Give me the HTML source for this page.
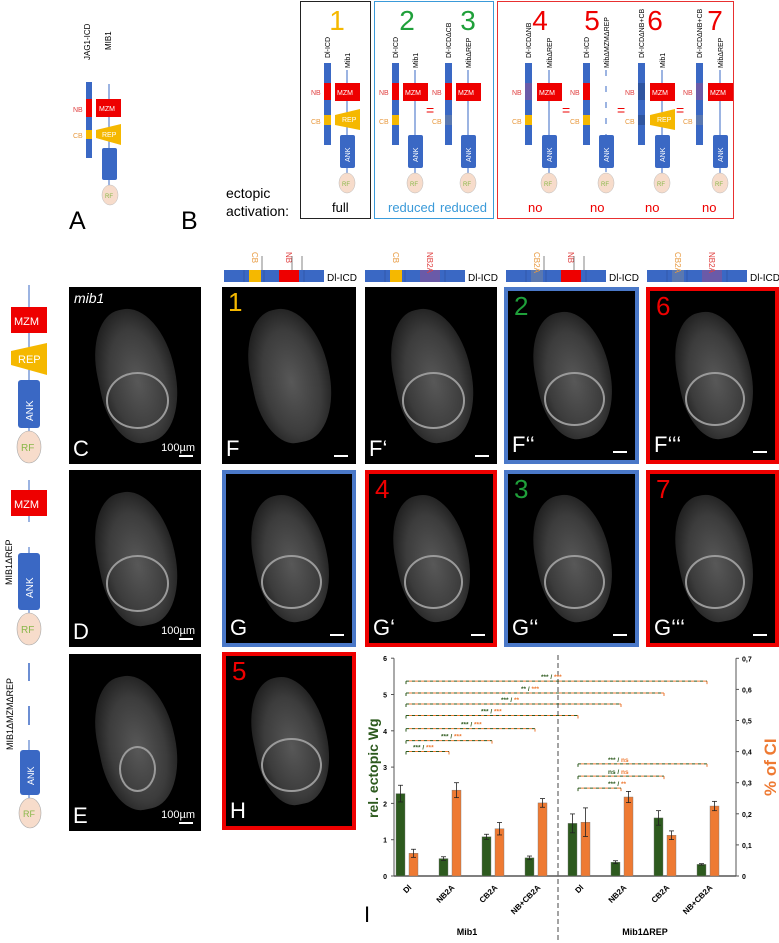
<!DOCTYPE html>
<html><head><meta charset="utf-8">
<style>
body{margin:0;width:779px;height:943px;background:#fff;position:relative;overflow:hidden;font-family:"Liberation Sans","DejaVu Sans",sans-serif}
.a{position:absolute}
.p{position:absolute;background:#000;box-sizing:border-box;overflow:hidden}
.p .bl{position:absolute;left:22%;top:12%;width:58%;height:76%;border-radius:45% 50% 48% 42%;background:radial-gradient(ellipse at 50% 55%,#585858 0%,#3c3c3c 50%,#1a1a1a 80%,rgba(0,0,0,0) 100%);transform:rotate(-12deg)}
.p .pc{position:absolute;left:28%;top:48%;width:48%;height:32%;border:2px solid #9a9a9a;border-radius:50%;box-sizing:border-box}
.p .lt{position:absolute;left:4px;bottom:2px;color:#fff;font-size:22px}
.p .nm{position:absolute;left:6px;top:0px;font-size:26px}
.p .sb{position:absolute;right:8px;bottom:7px;width:14px;height:2px;background:#fff}
.p .um{position:absolute;right:6px;bottom:10px;color:#fff;font-size:11px}
</style></head><body>
<svg class="a" style="left:0;top:0" width="779" height="290">
 <g font-size="8" font-family="Liberation Sans">
  <text transform="translate(90,60) rotate(-90)">JAG1-ICD</text>
  <text transform="translate(111,50) rotate(-90)">MIB1</text>
  <rect x="86" y="82" width="6" height="76" fill="#3a68c4"/>
  <rect x="86" y="99" width="6" height="18" fill="#e00"/>
  <rect x="86" y="130" width="6" height="9" fill="#f5b800"/>
  <text x="73" y="112" fill="#e04040" font-size="7">NB</text>
  <text x="73" y="138" fill="#e89a40" font-size="7">CB</text>
  <line x1="109" y1="84" x2="109" y2="195" stroke="#3a68c4"/>
  <rect x="96" y="99" width="25" height="18" fill="#e00"/>
  <text x="99" y="111" fill="#fff" font-size="7">MZM</text>
  <polygon points="96,130 121,124 121,145 96,138" fill="#f5b800"/>
  <text x="102" y="137" fill="#fff" font-size="7">REP</text>
  <rect x="102" y="148" width="15" height="32" rx="2" fill="#3a68c4"/>
  <ellipse cx="110" cy="195" rx="8" ry="10" fill="#f7dccb" stroke="#bbb" stroke-width=".5"/>
  <text x="105" y="198" fill="#8ab84a" font-size="6">RF</text>
 </g>
 <g id="Bgroup" font-family="Liberation Sans"></g>
</svg>
<div class="a" style="left:69px;top:207px;font-size:25px">A</div>
<div class="a" style="left:181px;top:207px;font-size:25px">B</div>
<div class="a" style="left:226px;top:184px;font-size:14px;line-height:18px">ectopic<br>activation:</div>
<div class="a" style="left:300px;top:1px;width:71px;height:218px;border:1.5px solid #222;box-sizing:border-box"></div>
<div class="a" style="left:374px;top:1px;width:120px;height:218px;border:1.5px solid #3a9ad9;box-sizing:border-box"></div>
<div class="a" style="left:497px;top:1px;width:237px;height:218px;border:1.5px solid #e83030;box-sizing:border-box"></div>
<div class="a" style="left:332px;top:200px;font-size:13px">full</div>
<div class="a" style="left:388px;top:200px;font-size:13px;color:#3a9ad9">reduced</div>
<div class="a" style="left:440px;top:200px;font-size:13px;color:#3a9ad9">reduced</div>
<div class="a" style="left:528px;top:200px;font-size:13px;color:#e00">no</div>
<div class="a" style="left:590px;top:200px;font-size:13px;color:#e00">no</div>
<div class="a" style="left:645px;top:200px;font-size:13px;color:#e00">no</div>
<div class="a" style="left:702px;top:200px;font-size:13px;color:#e00">no</div>

<svg class="a" style="left:0;top:285px" width="62" height="550" font-family="Liberation Sans">
 <line x1="29" y1="0" x2="29" y2="175" stroke="#3a68c4"/>
 <rect x="11" y="22" width="36" height="26" fill="#e00"/><text x="14" y="40" fill="#fff" font-size="11">MZM</text>
 <polygon points="11,66 47,58 47,90 11,80" fill="#f5b800"/><text x="18" y="78" fill="#fff" font-size="11">REP</text>
 <rect x="18" y="95" width="22" height="48" rx="3" fill="#3a68c4"/><text transform="translate(33,136) rotate(-90)" fill="#fff" font-size="10">ANK</text>
 <ellipse cx="29" cy="162" rx="12" ry="16" fill="#f7dccb" stroke="#aaa" stroke-width=".6"/><text x="21" y="166" fill="#8ab84a" font-size="10">RF</text>
 <line x1="29" y1="195" x2="29" y2="350" stroke="#3a68c4"/>
 <line x1="29" y1="237" x2="29" y2="262" stroke="#fff" stroke-width="3"/>
 <rect x="11" y="205" width="36" height="26" fill="#e00"/><text x="14" y="223" fill="#fff" font-size="11">MZM</text>
 <text transform="translate(12,300) rotate(-90)" font-size="9">MIB1ΔREP</text>
 <rect x="18" y="268" width="22" height="57" rx="3" fill="#3a68c4"/><text transform="translate(33,313) rotate(-90)" fill="#fff" font-size="10">ANK</text>
 <ellipse cx="29" cy="344" rx="12" ry="16" fill="#f7dccb" stroke="#aaa" stroke-width=".6"/><text x="21" y="348" fill="#8ab84a" font-size="10">RF</text>
 <line x1="29" y1="378" x2="29" y2="396" stroke="#3a68c4" stroke-width="1.5"/>
 <line x1="29" y1="421" x2="29" y2="440" stroke="#3a68c4" stroke-width="1.5"/>
 <text transform="translate(13,465) rotate(-90)" font-size="9">MIB1ΔMZMΔREP</text>
 <line x1="29" y1="455" x2="29" y2="530" stroke="#3a68c4"/>
 <rect x="20" y="465" width="20" height="45" rx="3" fill="#3a68c4"/><text transform="translate(34,500) rotate(-90)" fill="#fff" font-size="9">ANK</text>
 <ellipse cx="30" cy="528" rx="11" ry="15" fill="#f7dccb" stroke="#aaa" stroke-width=".6"/><text x="23" y="532" fill="#8ab84a" font-size="9">RF</text>
</svg>

<svg class="a" style="left:0;top:240px" width="779" height="45" font-family="Liberation Sans" id="strips"></svg>

<div class="p" style="left:69px;top:287px;width:132px;height:177px"><div class="bl"></div><div class="pc"></div><div class="a" style="left:5px;top:3px;color:#fff;font-style:italic;font-size:14px">mib1</div><div class="lt">C</div><div class="um">100µm</div><div class="sb"></div></div>
<div class="p" style="left:69px;top:470px;width:132px;height:177px"><div class="bl"></div><div class="pc"></div><div class="lt">D</div><div class="um">100µm</div><div class="sb"></div></div>
<div class="p" style="left:69px;top:654px;width:132px;height:177px"><div class="bl"></div><div class="pc" style="left:38%;width:28%;top:52%;height:26%"></div><div class="lt">E</div><div class="um">100µm</div><div class="sb"></div></div>
<div class="p" style="left:222px;top:287px;width:134px;height:177px"><div class="bl"></div><div class="nm" style="color:#f5b800">1</div><div class="lt">F</div><div class="sb"></div></div>
<div class="p" style="left:365px;top:287px;width:132px;height:177px"><div class="bl"></div><div class="pc"></div><div class="lt">F‘</div><div class="sb"></div></div>
<div class="p" style="left:504px;top:287px;width:135px;height:177px;border:4px solid #4a78c8"><div class="bl"></div><div class="pc"></div><div class="nm" style="color:#1fa03a">2</div><div class="lt">F‘‘</div><div class="sb"></div></div>
<div class="p" style="left:646px;top:287px;width:133px;height:177px;border:4px solid #e00"><div class="bl"></div><div class="pc"></div><div class="nm" style="color:#e00">6</div><div class="lt">F‘‘‘</div><div class="sb"></div></div>
<div class="p" style="left:222px;top:470px;width:134px;height:177px;border:4px solid #4a78c8"><div class="bl"></div><div class="pc"></div><div class="lt">G</div><div class="sb"></div></div>
<div class="p" style="left:365px;top:470px;width:132px;height:177px;border:4px solid #e00"><div class="bl"></div><div class="pc"></div><div class="nm" style="color:#e00">4</div><div class="lt">G‘</div><div class="sb"></div></div>
<div class="p" style="left:504px;top:470px;width:135px;height:177px;border:4px solid #4a78c8"><div class="bl"></div><div class="pc"></div><div class="nm" style="color:#1fa03a">3</div><div class="lt">G‘‘</div><div class="sb"></div></div>
<div class="p" style="left:646px;top:470px;width:133px;height:177px;border:4px solid #e00"><div class="bl"></div><div class="pc"></div><div class="nm" style="color:#e00">7</div><div class="lt">G‘‘‘</div><div class="sb"></div></div>
<div class="p" style="left:222px;top:652px;width:134px;height:178px;border:4px solid #e00"><div class="bl"></div><div class="pc"></div><div class="nm" style="color:#e00">5</div><div class="lt">H</div></div>

<svg class="a" style="left:0;top:0" width="779" height="943" id="chart" font-family="Liberation Sans"></svg>
<div class="a" style="left:364px;top:902px;font-size:22px">I</div>

<script>
const categories = ["Dl","NB2A","CB2A","NB+CB2A","Dl","NB2A","CB2A","NB+CB2A"];
const groups = ["Mib1","Mib1ΔREP"];
const wgValues = [2.27,0.48,1.08,0.50,1.45,0.38,1.60,0.32];
const wgErrors = [0.23,0.05,0.07,0.05,0.26,0.04,0.20,0.02];
const ciValues = [0.073,0.276,0.152,0.235,0.173,0.254,0.131,0.225];
const ciErrors = [0.013,0.024,0.020,0.014,0.046,0.018,0.014,0.015];
const leftTicks = [0,1,2,3,4,5,6];
const rightTicks = ["0","0,1","0,2","0,3","0,4","0,5","0,6","0,7"];
const bracketLevels = [5.37,5.04,4.74,4.42,4.06,3.73,3.43,3.09,2.75,2.42];
const bracketStart = [0,0,0,0,0,0,0,4,4,4];
const bracketEnd = [7,6,5,4,3,2,1,7,6,5];
const bracketGreen = ["***","**","***","***","***","***","***","***","ns","***"];
const bracketOrange = ["***","***","**","***","***","***","***","ns","ns","**"];

const NS="http://www.w3.org/2000/svg";
const svg=document.getElementById('chart');
function mk(t,a,p){const e=document.createElementNS(NS,t);for(const k in a)e.setAttribute(k,a[k]);(p||svg).appendChild(e);return e;}
const y0=876, yL=v=>y0-v*36.3, yR=v=>y0-v*311;
const xG=i=>400.5+i*43, xO=i=>xG(i)+13, xC=i=>xG(i)+6.5;
const G="#2d5a1e", O="#ee7a33";
let e=mk('line',{x1:394,y1:yL(6),x2:394,y2:y0,stroke:'#555'});

e=mk('line',{x1:736,y1:yR(0.7),x2:736,y2:y0,stroke:'#555'});

e=mk('line',{x1:394,y1:y0,x2:736,y2:y0,stroke:'#555',"stroke-width":1.5});

e=mk('line',{x1:558,y1:655,x2:558,y2:943,stroke:'#666',"stroke-dasharray":"5,3","stroke-width":1.2});

leftTicks.forEach(v=>{const t=mk('text',{x:387,y:yL(v)+3,"font-size":7,"text-anchor":"end","font-weight":"bold"});t.textContent=v;

mk('line',{x1:391,y1:yL(v),x2:394,y2:yL(v),stroke:'#555'});});
rightTicks.forEach((s,i)=>{const t=mk('text',{x:742,y:yR(i/10)+3,"font-size":7,"font-weight":"bold"});t.textContent=s;

mk('line',{x1:736,y1:yR(i/10),x2:739,y2:yR(i/10),stroke:'#555'});});
e=mk('text',{transform:'translate(378,818) rotate(-90)',"font-size":14,"font-weight":"bold",fill:G});e.textContent="rel. ectopic Wg";

e=mk('text',{transform:'translate(776,796) rotate(-90)',"font-size":17,"font-weight":"bold",fill:O});e.textContent="% of CI";

function err(x,yv,ye,f){mk('line',{x1:x,y1:f(yv-ye),x2:x,y2:f(yv+ye),stroke:'#222',"stroke-width":.8});
[yv-ye,yv+ye].forEach(v=>mk('line',{x1:x-2.5,y1:f(v),x2:x+2.5,y2:f(v),stroke:'#222',"stroke-width":.8}));}
categories.forEach((c,i)=>{
 const b=mk('rect',{x:xG(i)-4.5,y:yL(wgValues[i]),width:9,height:y0-yL(wgValues[i]),fill:G,stroke:'#777',"stroke-width":.4});
 
 err(xG(i),wgValues[i],wgErrors[i],yL);
 const o=mk('rect',{x:xO(i)-4.5,y:yR(ciValues[i]),width:9,height:y0-yR(ciValues[i]),fill:O,stroke:'#777',"stroke-width":.4});
 
 err(xO(i),ciValues[i],ciErrors[i],yR);
 const t=mk('text',{transform:`translate(${xC(i)+5},${y0+12}) rotate(-45)`,"font-size":8,"font-weight":"bold","text-anchor":"end"});t.textContent=c;
 
});
groups.forEach((g,k)=>{const t=mk('text',{x:k?645:467,y:935,"font-size":9,"font-weight":"bold","text-anchor":"middle"});t.textContent=g;
});
bracketLevels.forEach((lv,i)=>{
 const x1=xC(bracketStart[i])-1,x2=xC(bracketEnd[i])-1,y=yL(lv);
 const g=mk('g',{});
 
 mk('line',{x1,y1:y,x2,y2:y,stroke:G,"stroke-width":1,"stroke-dasharray":"3,3"},g);
 mk('line',{x1:x1+3,y1:y,x2,y2:y,stroke:O,"stroke-width":1,"stroke-dasharray":"3,3"},g);
 mk('line',{x1,y1:y,x2:x1,y2:y+3,stroke:G},g);mk('line',{x1:x2,y1:y,x2:x2,y2:y+3,stroke:O},g);
 const t=mk('text',{x:x1+(i<7?(i===6?7:(bracketEnd[i]-1)*20+15):30),y:y-2,"font-size":6.5,"font-weight":"bold"},g);
 const s1=mk('tspan',{fill:G},t);s1.textContent=bracketGreen[i]+" / ";
 const s2=mk('tspan',{fill:O},t);s2.textContent=bracketOrange[i];
});

const B=document.getElementById('Bgroup');
const dlX=[324,392,445,525,583,638,696];
const mibX=[347,415,468,549,606,662,720];
const nbCol=["#e00","#e00","#e00","#6a5aa8","#e00","#2f55a0","#6a5aa8"];
const cbCol=["#f5b800","#f5b800","#5a78b0","#f5b800","#f5b800","#2f55a0","#5a78b0"];
const dlNames=["Dl-ICD","Dl-ICD","Dl-ICDΔCB","Dl-ICDΔNB","Dl-ICD","Dl-ICDΔNB+CB","Dl-ICDΔNB+CB"];
const mibNames=["Mib1","Mib1","MibΔREP","MibΔREP","MibΔMZMΔREP","Mib1","MibΔREP"];
dlX.forEach((x,i)=>{
 const m=mibX[i];
 mk('rect',{x:x,y:63,width:7,height:82,fill:'#3a68c4'},B);
 mk('rect',{x:x,y:83,width:7,height:17,fill:nbCol[i]},B);
 mk('rect',{x:x,y:115,width:7,height:10,fill:cbCol[i]},B);
 let t=mk('text',{x:x-13,y:95,"font-size":7,fill:'#e04040'},B);t.textContent="NB";
 t=mk('text',{x:x-13,y:124,"font-size":7,fill:'#e89a40'},B);t.textContent="CB";
 t=mk('text',{transform:`translate(${x+6},58) rotate(-90)`,"font-size":7},B);t.textContent=dlNames[i];
 t=mk('text',{transform:`translate(${m+3},68) rotate(-90)`,"font-size":7},B);t.textContent=mibNames[i];
 mk('line',{x1:m,y1:70,x2:m,y2:175,stroke:'#3a68c4',"stroke-dasharray":i===4?"6,10":"none"},B);
 if(i!==4){mk('rect',{x:m-12,y:83,width:25,height:18,fill:'#e00'},B);
  t=mk('text',{x:m-10,y:95,"font-size":7,fill:'#fff'},B);t.textContent="MZM";}
 if(i===0||i===5){mk('polygon',{points:`${m-12},115 ${m+13},109 ${m+13},130 ${m-12},125`,fill:'#f5b800'},B);
  t=mk('text',{x:m-5,y:122,"font-size":7,fill:'#fff'},B);t.textContent="REP";}
 mk('rect',{x:m-7,y:135,width:15,height:33,rx:2,fill:'#3a68c4'},B);
 t=mk('text',{transform:`translate(${m+3},162) rotate(-90)`,"font-size":7,fill:'#fff'},B);t.textContent="ANK";
 mk('ellipse',{cx:m,cy:183,rx:8,ry:10,fill:'#f7dccb',stroke:'#bbb',"stroke-width":.5},B);
 t=mk('text',{x:m-5,y:186,"font-size":6,fill:'#8ab84a'},B);t.textContent="RF";
});
[430,566,621,680].forEach(x=>{let t=mk('text',{x:x-4,y:115,"font-size":14,fill:'#e00'},B);t.textContent="=";});
[[337,"#f5b800",1],[407,"#1fa03a",2],[468,"#1fa03a",3],[540,"#e00",4],[592,"#e00",5],[655,"#e00",6],[715,"#e00",7]].forEach(a=>{
 let t=mk('text',{x:a[0],y:30,"font-size":28,fill:a[1],"text-anchor":"middle"},B);t.textContent=a[2];});

const S=document.getElementById('strips');
const stripX=[224,365,506,647];
const seg1=[["#f5b800","#e00"],["#f5b800","#6a5aa8"],["#5a78b0","#e00"],["#5a78b0","#6a5aa8"]];
const stripTop=[["CB","NB"],["CB","NB2A"],["CB2A","NB"],["CB2A","NB2A"]];
stripX.forEach((x,i)=>{
 mk('rect',{x:x,y:30,width:100,height:12,fill:'#3a68c4'},S);
 for(let k=1;k<5;k++)mk('line',{x1:x+k*20,y1:30,x2:x+k*20,y2:42,stroke:'#2a4a90',"stroke-width":.5},S);
 mk('rect',{x:x+25,y:30,width:12,height:12,fill:seg1[i][0]},S);
 mk('rect',{x:x+55,y:30,width:20,height:12,fill:seg1[i][1]},S);
 let t=mk('text',{x:x+103,y:41,"font-size":10},S);t.textContent="Dl-ICD";
 t=mk('text',{transform:`translate(${x+28},12) rotate(90)`,"font-size":8,fill:'#e89a40'},S);t.textContent=stripTop[i][0];
 t=mk('text',{transform:`translate(${x+62},12) rotate(90)`,"font-size":8,fill:'#e04040'},S);t.textContent=stripTop[i][1];
 if(i===0||i===2){[38,68,78].forEach(d=>mk('line',{x1:x+d,y1:16,x2:x+d,y2:30,stroke:'#333',"stroke-width":.6},S));}
});
</script>
</body></html>
